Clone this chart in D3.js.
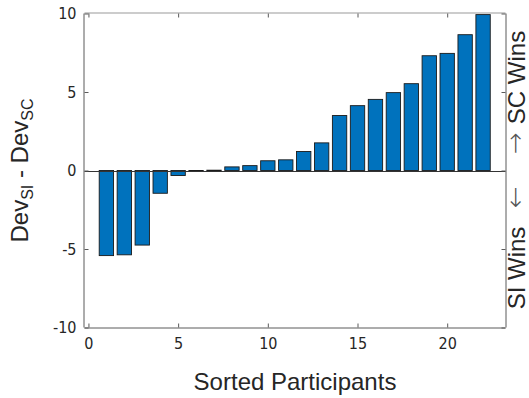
<!DOCTYPE html>
<html>
<head>
<meta charset="utf-8">
<script src="https://cdn.jsdelivr.net/npm/d3@7"></script>
<style>
  html, body { margin: 0; padding: 0; background: #fff; }
  svg { display: block; }
  .tick-label { font-family: "DejaVu Sans Condensed", "DejaVu Sans", sans-serif; font-stretch: condensed; font-size: 16px; fill: #262626; }
  .axis-title { font-family: "Liberation Sans", Arial, sans-serif; font-size: 24px; fill: #262626; }
  .arrow { font-family: "DejaVu Sans", sans-serif; font-weight: 200; font-size: 26px; fill: #555; }
</style>
</head>
<body>
<svg id="chart" width="529" height="398"></svg>
<script>
// Sorted per-participant deviance differences (SI minus SC)
const participants = d3.range(1, 23);
const devDiff = [-5.42, -5.37, -4.75, -1.45, -0.32, -0.03, 0.02, 0.23, 0.31, 0.62, 0.68,
                 1.21, 1.76, 3.50, 4.13, 4.53, 4.96, 5.53, 7.31, 7.46, 8.65, 9.93];
const xTicks = [0, 5, 10, 15, 20];
const yTicks = [-10, -5, 0, 5, 10];
const xDomain = [-0.22, 23.25];
const yDomain = [-10, 10];

const box = { left: 84.5, right: 505.5, top: 13.5, bottom: 327.5 };
const barColor = "#0072BD";
const axisColor = "#5a5a5a";
const tickLen = 4;

const svg = d3.select("#chart");
const x = d3.scaleLinear().domain(xDomain).range([box.left, box.right]);
const y = d3.scaleLinear().domain(yDomain).range([box.bottom, box.top]);
const barWidth = x(0.8) - x(0);
const fmt = (d) => String(d);   // plain hyphen-minus for negatives

// Bars
svg.append("g")
  .selectAll("rect")
  .data(participants)
  .join("rect")
  .attr("x", (d) => x(d) - barWidth / 2)
  .attr("y", (d, i) => y(Math.max(0, devDiff[i])))
  .attr("width", barWidth)
  .attr("height", (d, i) => Math.max(0.6, Math.abs(y(devDiff[i]) - y(0))))
  .attr("fill", barColor)
  .attr("stroke", "#1a1a1a")
  .attr("stroke-width", 0.9);

// Baseline at zero
svg.append("line")
  .attr("x1", box.left).attr("x2", box.right)
  .attr("y1", Math.round(y(0)) + 0.5).attr("y2", Math.round(y(0)) + 0.5)
  .attr("stroke", "#333").attr("stroke-width", 1);

// Axes: ticks pointing inward on all four sides, box closed
const xBottom = d3.axisBottom(x).tickValues(xTicks).tickSize(-tickLen).tickPadding(10).tickFormat(fmt);
const xTop = d3.axisTop(x).tickValues(xTicks).tickSize(-tickLen).tickFormat("");
const yLeft = d3.axisLeft(y).tickValues(yTicks).tickSize(-tickLen).tickPadding(8).tickFormat(fmt);
const yRight = d3.axisRight(y).tickValues(yTicks).tickSize(-tickLen).tickFormat("");

function styleAxis(g) {
  g.select(".domain").attr("stroke", axisColor);
  g.selectAll(".tick line").attr("stroke", axisColor);
  g.selectAll(".tick text").attr("class", "tick-label");
}

svg.append("g").attr("transform", `translate(0,${box.bottom})`).call(xBottom).call(styleAxis)
  .call((g) => g.select(".domain").attr("d", `M${box.left},0.5H${box.right}`));
svg.append("g").attr("transform", `translate(0,${box.top})`).call(xTop).call(styleAxis)
  .call((g) => g.select(".domain").attr("d", `M${box.left},-0.5H${box.right}`).attr("stroke", "#999"));
svg.append("g").attr("transform", `translate(${box.left},0)`).call(yLeft).call(styleAxis)
  .call((g) => g.select(".domain").attr("d", `M-0.5,${box.top}V${box.bottom}`));
svg.append("g").attr("transform", `translate(${box.right},0)`).call(yRight).call(styleAxis)
  .call((g) => g.select(".domain").attr("d", `M0.5,${box.top}V${box.bottom}`));

// X axis title
svg.append("text")
  .attr("class", "axis-title")
  .attr("x", (box.left + box.right) / 2)
  .attr("y", 390)
  .attr("text-anchor", "middle")
  .text("Sorted Participants");

// Y axis title with subscripts
const yTitle = svg.append("text")
  .attr("class", "axis-title")
  .attr("text-anchor", "middle")
  .attr("transform", `translate(28,${(box.top + box.bottom) / 2}) rotate(-90)`);
yTitle.append("tspan").text("Dev");
yTitle.append("tspan").attr("font-size", 16).attr("dy", 5).text("SI");
yTitle.append("tspan").attr("dy", -5).text(" - Dev");
yTitle.append("tspan").attr("font-size", 16).attr("dy", 5).text("SC");

// Right-hand annotation: which model wins
const winLabels = [
  { text: "SC Wins", at: 77.5, cls: "axis-title" },
  { text: "\u2192", at: 143, cls: "arrow" },
  { text: "\u2190", at: 197, cls: "arrow" },
  { text: "SI Wins", at: 268, cls: "axis-title" }
];
svg.append("g")
  .selectAll("text")
  .data(winLabels)
  .join("text")
  .attr("class", (d) => d.cls)
  .attr("text-anchor", "middle")
  .attr("transform", (d) => `translate(${d.cls === "arrow" ? 524 : 525},${d.at}) rotate(-90)`)
  .text((d) => d.text);
</script>
</body>
</html>
